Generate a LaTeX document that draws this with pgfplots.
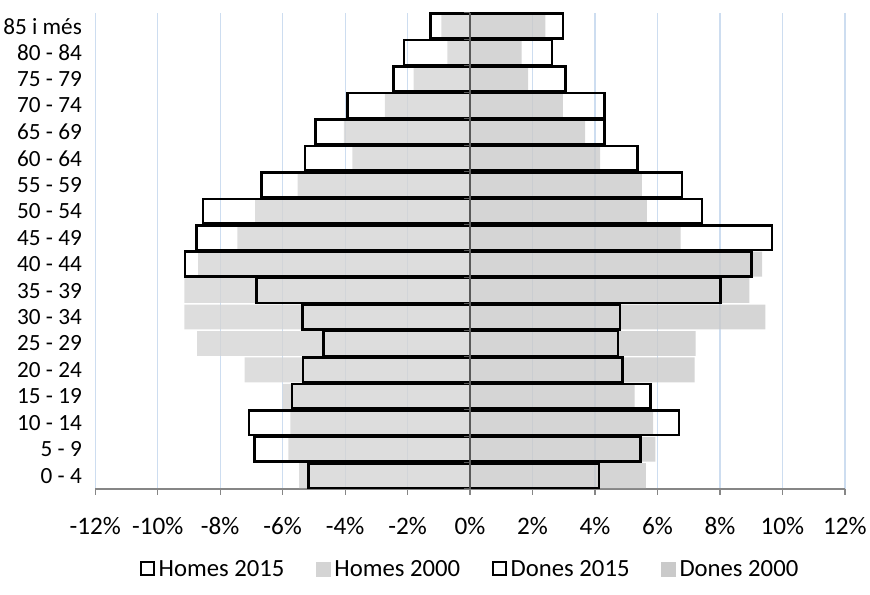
\documentclass[border=0pt]{standalone}
\usepackage{fontspec}
\setmainfont{Carlito}
\usepackage{pgfplots}
\pgfplotsset{compat=1.18}

\definecolor{gridblue}{RGB}{205,221,240}
\definecolor{homesgray}{RGB}{212,212,212}
\definecolor{donesgray}{RGB}{202,202,202}
\definecolor{axisgray}{RGB}{134,134,134}

% homes (negatiu) i dones (positiu), % de la poblacio; y = 0 per 0-4 ... 17 per 85 i mes
\pgfplotstableread{
y h2015 h2000 d2015 d2000
0  -5.17 -5.47 4.12 5.63
1  -6.90 -5.82 5.45 5.93
2  -7.08 -5.75 6.69 5.86
3  -5.70 -6.00 5.77 5.27
4  -5.35 -7.22 4.87 7.19
5  -4.69 -8.74 4.74 7.22
6  -5.36 -9.15 4.80 9.45
7  -6.83 -9.15 8.02 8.94
8  -9.12 -8.71 9.01 9.35
9  -8.76 -7.45 9.66 6.74
10 -8.55 -6.88 7.43 5.66
11 -6.67 -5.52 6.78 5.50
12 -5.29 -3.77 5.36 4.16
13 -4.94 -4.04 4.30 3.68
14 -3.93 -2.73 4.30 2.97
15 -2.46 -1.81 3.06 1.86
16 -2.12 -0.73 2.62 1.65
17 -1.27 -0.92 2.97 2.41
}\piramide

\begin{document}
\begin{tikzpicture}
\begin{axis}[
    scale only axis,
    width=756bp, height=480bp,
    xmin=-12, xmax=12,
    ymin=-0.5, ymax=17.5,
    xbar, bar shift=0pt, bar width=0.94,
    axis lines*=left,
    x axis line style={-, draw=axisgray, line width=1.5bp},
    y axis line style={draw=none},
    xtick={-12,-10,...,12},
    xticklabels={-12\%,-10\%,-8\%,-6\%,-4\%,-2\%,0\%,2\%,4\%,6\%,8\%,10\%,12\%},
    xtick style={draw=axisgray, line width=1.2bp},
    tick align=outside,
    major tick length=6bp,
    xticklabel style={font=\fontsize{25.5}{30}\selectfont, yshift=-19bp},
    ytick={0,...,17},
    yticklabels={0 - 4,5 - 9,10 - 14,15 - 19,20 - 24,25 - 29,30 - 34,35 - 39,40 - 44,45 - 49,50 - 54,55 - 59,60 - 64,65 - 69,70 - 74,75 - 79,80 - 84,85 i més},
    ytick style={draw=none},
    yticklabel style={font=\fontsize{23.5}{28}\selectfont, xshift=-4bp},
    xmajorgrids,
    grid style={gridblue, line width=1.2bp},
    legend columns=4,
    legend style={at={(0.5,-0.168)}, anchor=center, draw=none,
        font=\fontsize{25}{30}\selectfont,
        /tikz/every odd column/.append style={column sep=2bp},
        /tikz/every even column/.append style={column sep=30bp}},
]
\addlegendimage{legend image code/.code={\draw[black, line width=2bp, fill=white] (0bp,-6.5bp) rectangle (13bp,6.5bp);}}
\addlegendentry{Homes 2015}
\addlegendimage{legend image code/.code={\fill[homesgray] (0bp,-7bp) rectangle (14bp,7bp);}}
\addlegendentry{Homes 2000}
\addlegendimage{legend image code/.code={\draw[black, line width=2bp, fill=white] (0bp,-6.5bp) rectangle (13bp,6.5bp);}}
\addlegendentry{Dones 2015}
\addlegendimage{legend image code/.code={\fill[donesgray] (0bp,-7bp) rectangle (14bp,7bp);}}
\addlegendentry{Dones 2000}

\addplot[forget plot, draw=none, fill=homesgray, fill opacity=0.8] table[x=h2000, y=y] {\piramide};
\addplot[forget plot, draw=none, fill=donesgray, fill opacity=0.8] table[x=d2000, y=y] {\piramide};
\addplot[forget plot, draw=black, line width=2.6bp, fill=none] table[x=h2015, y=y] {\piramide};
\addplot[forget plot, draw=black, line width=2.6bp, fill=none] table[x=d2015, y=y] {\piramide};

\draw[black!65, line width=2bp] (axis cs:0,-0.5) -- (axis cs:0,17.5);
\pgfplotsinvokeforeach{0,...,18}{
  \draw[black!65, line width=1bp] (axis cs:0,#1-0.5) -- ++(-6bp,0bp);
}
\end{axis}
\path (current axis.south west) ++(-93.7bp,-106bp) rectangle ++(870bp,599bp);
\end{tikzpicture}
\end{document}
